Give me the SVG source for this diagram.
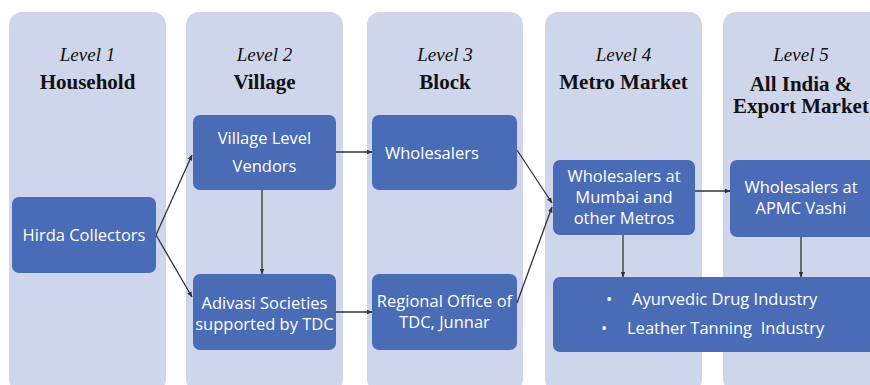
<svg xmlns="http://www.w3.org/2000/svg" width="870" height="385" viewBox="0 0 870 385">
<defs>
<marker id="ah" viewBox="0 0 10 10" refX="9" refY="5" markerWidth="6" markerHeight="6" markerUnits="userSpaceOnUse" orient="auto">
<path d="M0,1 L10,5 L0,9 z" fill="#333"/>
</marker>
</defs>
<style>
.col{fill:#cfd5ea}
.node{fill:#4a6cb6}
.lvl{font-family:"Liberation Serif",serif;font-style:italic;font-size:19px;fill:#111;text-anchor:middle}
.ttl{font-family:"Liberation Serif",serif;font-weight:bold;font-size:21px;fill:#111;text-anchor:middle}
.t{font-family:"Open Sans",sans-serif;font-size:16.5px;fill:#fff;text-anchor:middle}
.tl{font-family:"Open Sans",sans-serif;font-size:16.5px;fill:#fff;white-space:pre}
.c{stroke:#333;stroke-width:1.3;fill:none;marker-end:url(#ah)}
</style>
<rect width="870" height="385" fill="#ffffff"/>
<g id="columns">
<rect class="col" x="9" y="12" width="157" height="380" rx="13"/>
<rect class="col" x="186" y="12" width="157" height="380" rx="13"/>
<rect class="col" x="367" y="12" width="156" height="380" rx="13"/>
<rect class="col" x="545" y="12" width="157" height="380" rx="13"/>
<rect class="col" x="723" y="12" width="160" height="380" rx="13"/>
</g>
<g id="headers">
<text class="lvl" x="87.5" y="61">Level 1</text>
<text class="ttl" x="87.5" y="89">Household</text>
<text class="lvl" x="264.5" y="61">Level 2</text>
<text class="ttl" x="264.5" y="89">Village</text>
<text class="lvl" x="445" y="61">Level 3</text>
<text class="ttl" x="445" y="89">Block</text>
<text class="lvl" x="623.5" y="61">Level 4</text>
<text class="ttl" x="623.5" y="89">Metro Market</text>
<text class="lvl" x="801" y="61">Level 5</text>
<text class="ttl" x="801" y="91">All India &amp;</text>
<text class="ttl" x="801" y="113">Export Market</text>
</g>
<g id="connectors">
<line class="c" x1="156" y1="235" x2="192" y2="155"/>
<line class="c" x1="156" y1="235" x2="192" y2="297"/>
<line class="c" x1="262" y1="190" x2="262" y2="274"/>
<line class="c" x1="336" y1="152" x2="372" y2="152"/>
<line class="c" x1="336" y1="312" x2="372" y2="312"/>
<line class="c" x1="517" y1="150" x2="552" y2="203"/>
<line class="c" x1="517" y1="303" x2="552" y2="207"/>
<line class="c" x1="695" y1="191" x2="730" y2="191"/>
<line class="c" x1="623" y1="235" x2="623" y2="277"/>
<line class="c" x1="801" y1="237" x2="801" y2="277"/>
</g>
<g id="hirda">
<rect class="node" x="12" y="197" width="144" height="76" rx="7"/>
<text class="t" x="84" y="241">Hirda Collectors</text>
</g>
<g id="village-vendors">
<rect class="node" x="193" y="115" width="143" height="75" rx="7"/>
<text class="t" x="264.5" y="144">Village Level</text>
<text class="t" x="264.5" y="172">Vendors</text>
</g>
<g id="adivasi">
<rect class="node" x="193" y="274" width="143" height="76" rx="7"/>
<text class="t" x="264.5" y="309">Adivasi Societies</text>
<text class="t" x="264.5" y="330">supported by TDC</text>
</g>
<g id="wholesalers">
<rect class="node" x="372" y="115" width="145" height="75" rx="7"/>
<text class="tl" x="385" y="159">Wholesalers</text>
</g>
<g id="regional-office">
<rect class="node" x="372" y="274" width="145" height="76" rx="7"/>
<text class="t" x="444.5" y="307">Regional Office of</text>
<text class="t" x="444.5" y="328">TDC, Junnar</text>
</g>
<g id="mumbai">
<rect class="node" x="553" y="160" width="142" height="75" rx="7"/>
<text class="t" x="624" y="182">Wholesalers at</text>
<text class="t" x="624" y="203">Mumbai and</text>
<text class="t" x="624" y="224">other Metros</text>
</g>
<g id="apmc">
<rect class="node" x="730" y="160" width="150" height="77" rx="7"/>
<text class="t" x="801" y="193">Wholesalers at</text>
<text class="t" x="801" y="214">APMC Vashi</text>
</g>
<g id="industry">
<rect class="node" x="553" y="277" width="327" height="75" rx="7"/>
<text class="tl" x="606" y="305">•</text>
<text class="tl" x="632" y="305">Ayurvedic Drug Industry</text>
<text class="tl" x="601" y="334">•</text>
<text class="tl" x="627" y="334" xml:space="preserve">Leather Tanning  Industry</text>
</g>
</svg>
